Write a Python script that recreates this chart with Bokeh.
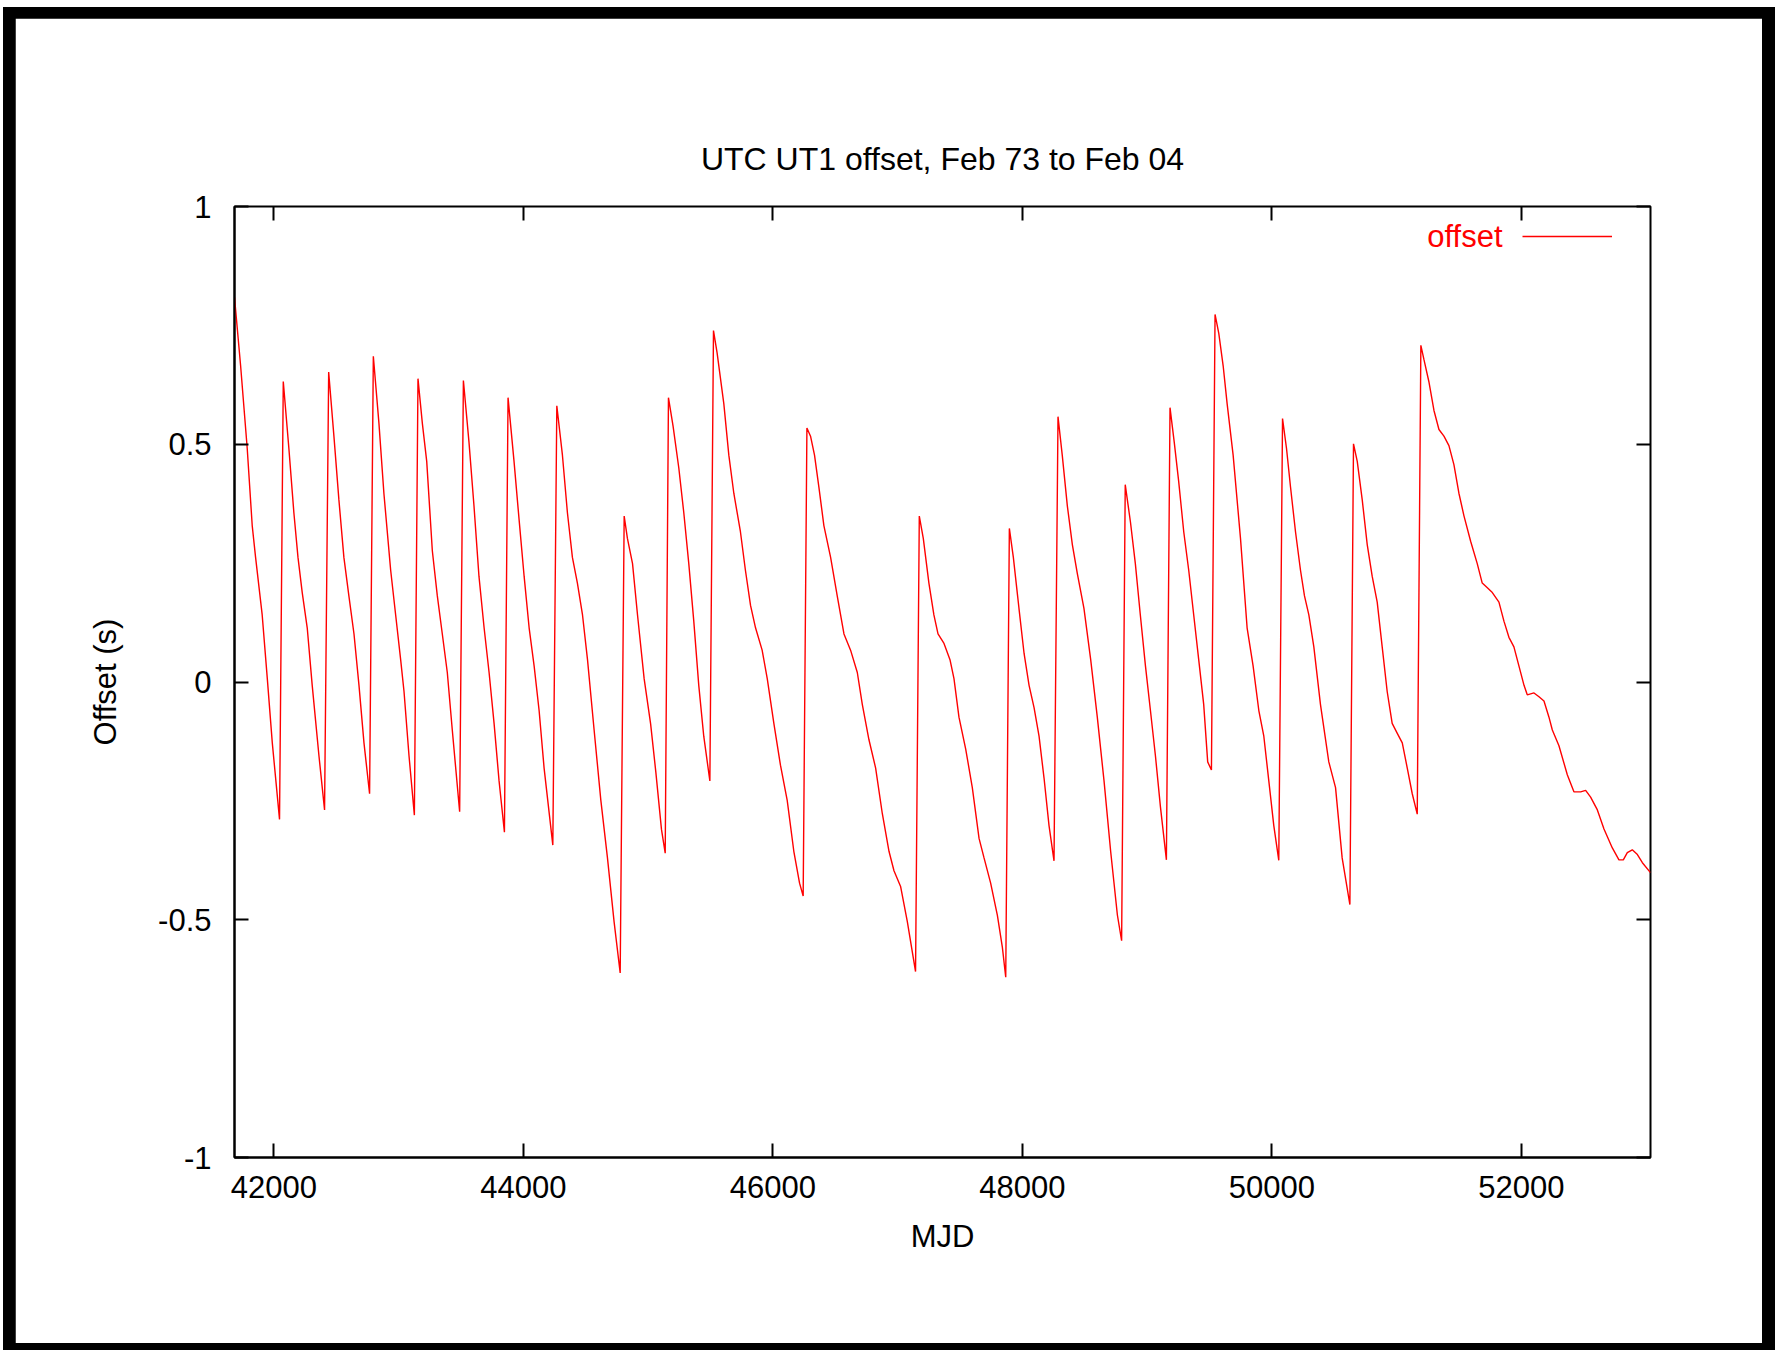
from bokeh.plotting import figure
from bokeh.layouts import column
from bokeh.models import (Range1d, LinearAxis, FixedTicker, Legend, LegendItem,
                          Label, NumeralTickFormatter)
from bokeh.embed import file_html
from bokeh.resources import INLINE

# ---------------- data ----------------
mjd = [
    41684, 41733, 41786, 41826, 41853, 41906, 41947, 41987, 42045,
    42075, 42120, 42160, 42193, 42227, 42267, 42307, 42361, 42406,
    42439, 42481, 42521, 42561, 42601, 42642, 42682, 42722, 42767,
    42797, 42842, 42882, 42936, 42976, 43016, 43043, 43083, 43126,
    43155, 43190, 43225, 43270, 43310, 43350, 43390, 43430, 43489,
    43519, 43564, 43604, 43644, 43685, 43725, 43765, 43805, 43848,
    43877, 43925, 43965, 44006, 44046, 44086, 44126, 44166, 44236,
    44268, 44313, 44353, 44393, 44433, 44474, 44514, 44567, 44621, 44674, 44727, 44776,
    44808, 44834, 44875, 44915, 44968, 45020, 45062, 45107, 45137,
    45163, 45200, 45246, 45286, 45326, 45366, 45406, 45446, 45495,
    45524, 45553, 45607, 45647, 45687, 45740, 45780, 45821, 45861, 45914, 45955,
    46008, 46061, 46115, 46168, 46214, 46243,
    46273, 46302, 46334, 46369, 46409, 46463, 46516, 46570, 46623, 46677, 46717,
    46770, 46824, 46877, 46931, 46971, 47024, 47078, 47144,
    47174, 47206, 47251, 47291, 47324, 47372, 47420, 47452, 47492, 47546, 47599,
    47653, 47693, 47746, 47800, 47840, 47867,
    47896, 47928, 47973, 48014, 48054, 48094, 48134, 48174, 48214, 48254,
    48286, 48320, 48361, 48401, 48441, 48494, 48548, 48601, 48655, 48708, 48762, 48796,
    48825, 48867, 48906, 48946, 48987, 49027, 49067, 49107, 49155,
    49184, 49218, 49253, 49294, 49334, 49374, 49414, 49454, 49486, 49516,
    49545, 49575, 49610, 49642, 49690, 49749, 49802, 49850, 49896, 49936, 49976, 50016, 50056,
    50086, 50118, 50150, 50190, 50230, 50262, 50297, 50337, 50390, 50457, 50511, 50564, 50626,
    50655, 50685, 50725, 50765, 50805, 50845, 50885, 50925, 50965, 51006, 51046, 51086, 51126, 51166,
    51195, 51219, 51259, 51300, 51340, 51380, 51420, 51460, 51500, 51540, 51594, 51647,
    51687, 51728, 51768, 51821, 51861, 51901, 51941, 51981, 52022, 52048, 52075, 52102,
    52142, 52182, 52222, 52249, 52302, 52369, 52422, 52476, 52516, 52556, 52610, 52663,
    52730, 52783, 52818, 52850, 52890, 52931, 52971, 53036,
]
offset = [
    0.809, 0.665, 0.491, 0.329, 0.262, 0.141, 0.007, -0.128, -0.289,
    0.632, 0.491, 0.356, 0.262, 0.188, 0.114, -0.007, -0.155, -0.269,
    0.652, 0.517, 0.383, 0.262, 0.181, 0.101, -0.007, -0.128, -0.235,
    0.685, 0.544, 0.396, 0.235, 0.141, 0.047, -0.020, -0.155, -0.280,
    0.638, 0.544, 0.464, 0.276, 0.181, 0.101, 0.020, -0.101, -0.273,
    0.634, 0.504, 0.370, 0.222, 0.114, 0.020, -0.087, -0.208, -0.316,
    0.598, 0.464, 0.343, 0.222, 0.114, 0.034, -0.060, -0.181, -0.343,
    0.581, 0.477, 0.356, 0.262, 0.208, 0.141, 0.047, -0.101, -0.249, -0.370, -0.504, -0.612,
    0.349, 0.302, 0.249, 0.141, 0.007, -0.088, -0.190, -0.310, -0.360,
    0.598, 0.538, 0.450, 0.356, 0.249, 0.128, -0.007, -0.114, -0.208,
    0.739, 0.692, 0.585, 0.477, 0.397, 0.316, 0.235, 0.161, 0.114, 0.067, 0.007,
    -0.087, -0.175, -0.249, -0.356, -0.423, -0.450,
    0.534, 0.517, 0.477, 0.410, 0.329, 0.262, 0.181, 0.101, 0.067, 0.020, -0.047,
    -0.121, -0.181, -0.276, -0.356, -0.397, -0.430, -0.504, -0.609,
    0.349, 0.302, 0.208, 0.141, 0.101, 0.081, 0.047, 0.007, -0.074, -0.141, -0.222,
    -0.329, -0.370, -0.423, -0.491, -0.558, -0.621,
    0.323, 0.262, 0.155, 0.060, -0.007, -0.054, -0.114, -0.202, -0.302, -0.376,
    0.558, 0.477, 0.370, 0.289, 0.228, 0.155, 0.047, -0.074, -0.208, -0.356, -0.490, -0.544,
    0.415, 0.336, 0.249, 0.141, 0.034, -0.060, -0.155, -0.262, -0.374,
    0.577, 0.504, 0.423, 0.316, 0.235, 0.141, 0.047, -0.047, -0.168, -0.185,
    0.773, 0.733, 0.665, 0.585, 0.477, 0.302, 0.114, 0.034, -0.060, -0.114, -0.208, -0.302, -0.375,
    0.554, 0.491, 0.410, 0.316, 0.235, 0.181, 0.141, 0.074, -0.047, -0.168, -0.222, -0.370, -0.468,
    0.501, 0.464, 0.383, 0.289, 0.222, 0.168, 0.074, -0.020, -0.087, -0.108, -0.128, -0.181, -0.235, -0.278,
    0.708, 0.679, 0.632, 0.571, 0.531, 0.517, 0.497, 0.457, 0.397, 0.350, 0.296, 0.249,
    0.208, 0.198, 0.188, 0.168, 0.128, 0.094, 0.074, 0.034, -0.007, -0.027, -0.025, -0.023,
    -0.031, -0.040, -0.074, -0.101, -0.134, -0.195, -0.231, -0.231, -0.228, -0.242, -0.269, -0.309,
    -0.349, -0.374, -0.374, -0.359, -0.353, -0.363, -0.380, -0.401,
]
x_ticks = [42000, 44000, 46000, 48000, 50000, 52000]
x_tick_labels = ["42000", "44000", "46000", "48000", "50000", "52000"]
y_ticks = [-1, -0.5, 0, 0.5, 1]
y_tick_labels = ["-1", "-0.5", "0", "0.5", "1"]
x_limits = [41684, 53036]
y_limits = [-1, 1]

title_text = "UTC UT1 offset, Feb 73 to Feb 04"
x_label = "MJD"
y_label = "Offset (s)"
series_name = "offset"

# ---------------- styling ----------------
FONT = "Liberation Sans"
FS = "31px"
RED = "#ff0000"

p = figure(width=1747, height=1325, output_backend="svg", toolbar_location=None,
           x_range=Range1d(*x_limits), y_range=Range1d(*y_limits),
           min_border_left=219, min_border_right=112,
           min_border_top=188, min_border_bottom=186,
           title=title_text)
p.grid.visible = False
p.background_fill_color = "white"
p.border_fill_color = "white"
p.outline_line_color = "black"
p.outline_line_width = 2

p.title.align = "center"
p.title.text_font = FONT
p.title.text_font_size = "32px"
p.title.text_font_style = "normal"
p.title.text_color = "black"
p.title.standoff = 60

r = p.line(mjd, offset, line_color=RED, line_width=1.4)


def style_axis(ax, ticks, labels, fmt, show):
    ax.ticker = FixedTicker(ticks=ticks)
    ax.formatter = NumeralTickFormatter(format=fmt)
    ax.major_label_overrides = {t: l for t, l in zip(ticks, labels)}
    ax.major_tick_in = 14
    ax.major_tick_out = 0
    ax.major_tick_line_width = 2
    ax.major_tick_line_color = "black"
    ax.minor_tick_line_color = None
    ax.axis_line_width = 2
    ax.axis_line_color = "black"
    ax.major_label_text_font = FONT
    ax.major_label_text_color = "black"
    if show:
        ax.major_label_text_font_size = FS
    else:
        ax.major_label_text_font_size = "0px"
        ax.major_label_standoff = 0
        ax.axis_line_color = None


xa = p.xaxis[0]
ya = p.yaxis[0]
style_axis(xa, x_ticks, x_tick_labels, "0", True)
style_axis(ya, y_ticks, y_tick_labels, "0.[0]", True)
xa.major_label_standoff = 18
ya.major_label_standoff = 23
xa.axis_label = x_label
ya.axis_label = y_label
for ax in (xa, ya):
    ax.axis_label_text_font = FONT
    ax.axis_label_text_font_size = FS
    ax.axis_label_text_font_style = "normal"
    ax.axis_label_text_color = "black"
xa.axis_label_standoff = 18
ya.axis_label_standoff = 32

top = LinearAxis()
style_axis(top, x_ticks, [""] * len(x_ticks), "0", False)
p.add_layout(top, "above")
right = LinearAxis()
style_axis(right, y_ticks, [""] * len(y_ticks), "0.[0]", False)
p.add_layout(right, "right")

# legend: text on the left, line sample on the right (gnuplot style)
legend = Legend(items=[LegendItem(label="", renderers=[r])],
                location=(1288, 911), glyph_width=90, glyph_height=20,
                padding=0, margin=0, spacing=0, label_standoff=0,
                label_width=0, label_height=20, label_text_font_size="1px",
                border_line_color=None, background_fill_alpha=0)
p.add_layout(legend)
p.add_layout(Label(x=1268, y=921, x_units="screen", y_units="screen",
                   text=series_name, text_align="right", text_baseline="middle",
                   text_color=RED, text_font=FONT, text_font_size=FS))

page = column(p, styles={"background-color": "black",
                         "padding": "11px 13px 7px 12px",
                         "margin": "7px 0px 0px 3px"})

open("out.html", "w").write(file_html(page, INLINE))
